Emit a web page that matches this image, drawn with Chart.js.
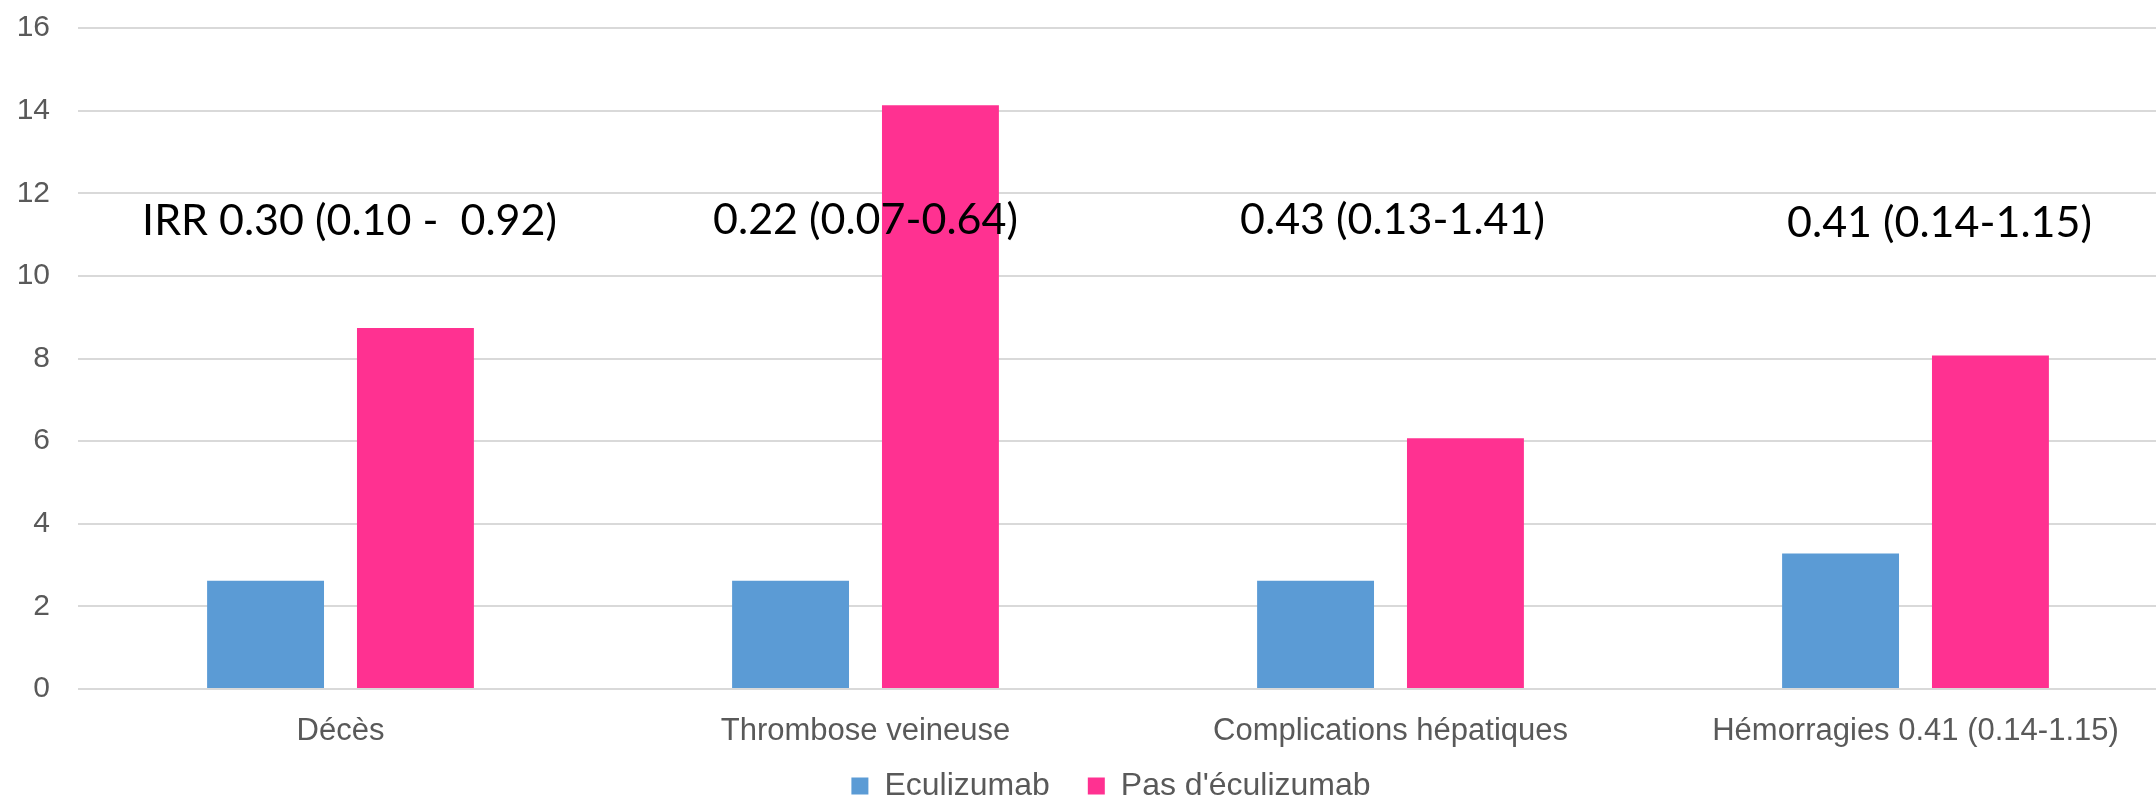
<!DOCTYPE html>
<html>
<head>
<meta charset="utf-8">
<script src="https://cdn.jsdelivr.net/npm/chart.js@4/dist/chart.umd.min.js"></script>
<style>
  html, body { margin: 0; padding: 0; background: #fff; overflow: hidden; }
  #wrap { width: 2156px; height: 801px; overflow: hidden; }
</style>
</head>
<body>
<div id="wrap"><canvas id="canvasChart" width="2178" height="801"></canvas></div>
<script>
const categories = ['Décès', 'Thrombose veineuse', 'Complications hépatiques', 'Hémorragies 0.41 (0.14-1.15)']
const eculizumab = [2.62, 2.62, 2.62, 3.28]
const pasEculizumab = [8.74, 14.13, 6.07, 8.07]
const yTicks = [0, 2, 4, 6, 8, 10, 12, 14, 16]

// IRR annotations above each group (baseline value on the y scale)
const irrLabels = ['IRR 0.30 (0.10 -  0.92)', '0.22 (0.07-0.64)', '0.43 (0.13-1.41)', '0.41 (0.14-1.15)']
const irrBaseline = [11.0, 11.02, 11.02, 10.95]
const irrShift = [9, 0, 2, 24]

const irrPlugin = {
  id: 'irr',
  beforeLayout(chart) {
    // legend box kept short, then nudged into place after layout
    const lg = chart.legend
    if (lg && !lg._tweaked) {
      const fit = lg.fit
      lg.fit = function () {
        fit.call(this)
        this.height = 50
      }
      lg._tweaked = true
    }
  },
  afterLayout(chart) {
    const lg = chart.legend
    if (lg) {
      lg.left += 22
      lg.right += 22
      lg.top -= 19
      lg.bottom = chart.height
    }
  },
  afterDatasetsDraw(chart) {
    const { ctx, scales } = chart
    ctx.save()
    ctx.font = '43px Lato'
    ctx.fillStyle = '#000'
    ctx.textAlign = 'center'
    ctx.textBaseline = 'alphabetic'
    irrLabels.forEach((txt, i) => {
      const x = scales.x.getPixelForValue(i) + irrShift[i]
      const y = scales.y.getPixelForValue(irrBaseline[i])
      ctx.fillText(txt, x, y)
    })
    ctx.restore()
  },
}

new Chart(document.getElementById('canvasChart'), {
  type: 'bar',
  data: {
    labels: categories,
    datasets: [
      {
        label: 'Eculizumab',
        data: eculizumab,
        backgroundColor: '#5B9BD5',
        categoryPercentage: 0.571,
        barPercentage: 0.78,
      },
      {
        label: "Pas d'éculizumab",
        data: pasEculizumab,
        backgroundColor: '#FF3191',
        categoryPercentage: 0.571,
        barPercentage: 0.78,
      },
    ],
  },
  options: {
    responsive: false,
    animation: false,
    layout: { padding: { top: 28, right: 0, left: 0, bottom: 0 } },
    scales: {
      x: {
        grid: { display: false },
        border: { display: false },
        afterFit: (scale) => {
          scale.height = 62
        },
        ticks: {
          color: '#595959',
          font: { family: 'Liberation Sans', size: 31 },
          padding: 16,
          maxRotation: 0,
        },
      },
      y: {
        min: 0,
        max: 16,
        afterBuildTicks: (scale) => {
          scale.ticks = yTicks.map((v) => ({ value: v }))
        },
        afterFit: (scale) => {
          scale.width = 78
          scale.paddingTop = 0
          scale.paddingBottom = 0
        },
        grid: { color: '#D9D9D9', lineWidth: 2, drawTicks: false },
        border: { display: false },
        ticks: {
          color: '#595959',
          font: { family: 'Liberation Sans', size: 30 },
          padding: 28,
        },
      },
    },
    plugins: {
      legend: {
        position: 'bottom',
        labels: {
          color: '#595959',
          font: { family: 'Liberation Sans', size: 32 },
          boxWidth: 17,
          boxHeight: 17,
          padding: 38,
        },
      },
      tooltip: { enabled: false },
    },
  },
  plugins: [irrPlugin],
})
</script>
</body>
</html>
